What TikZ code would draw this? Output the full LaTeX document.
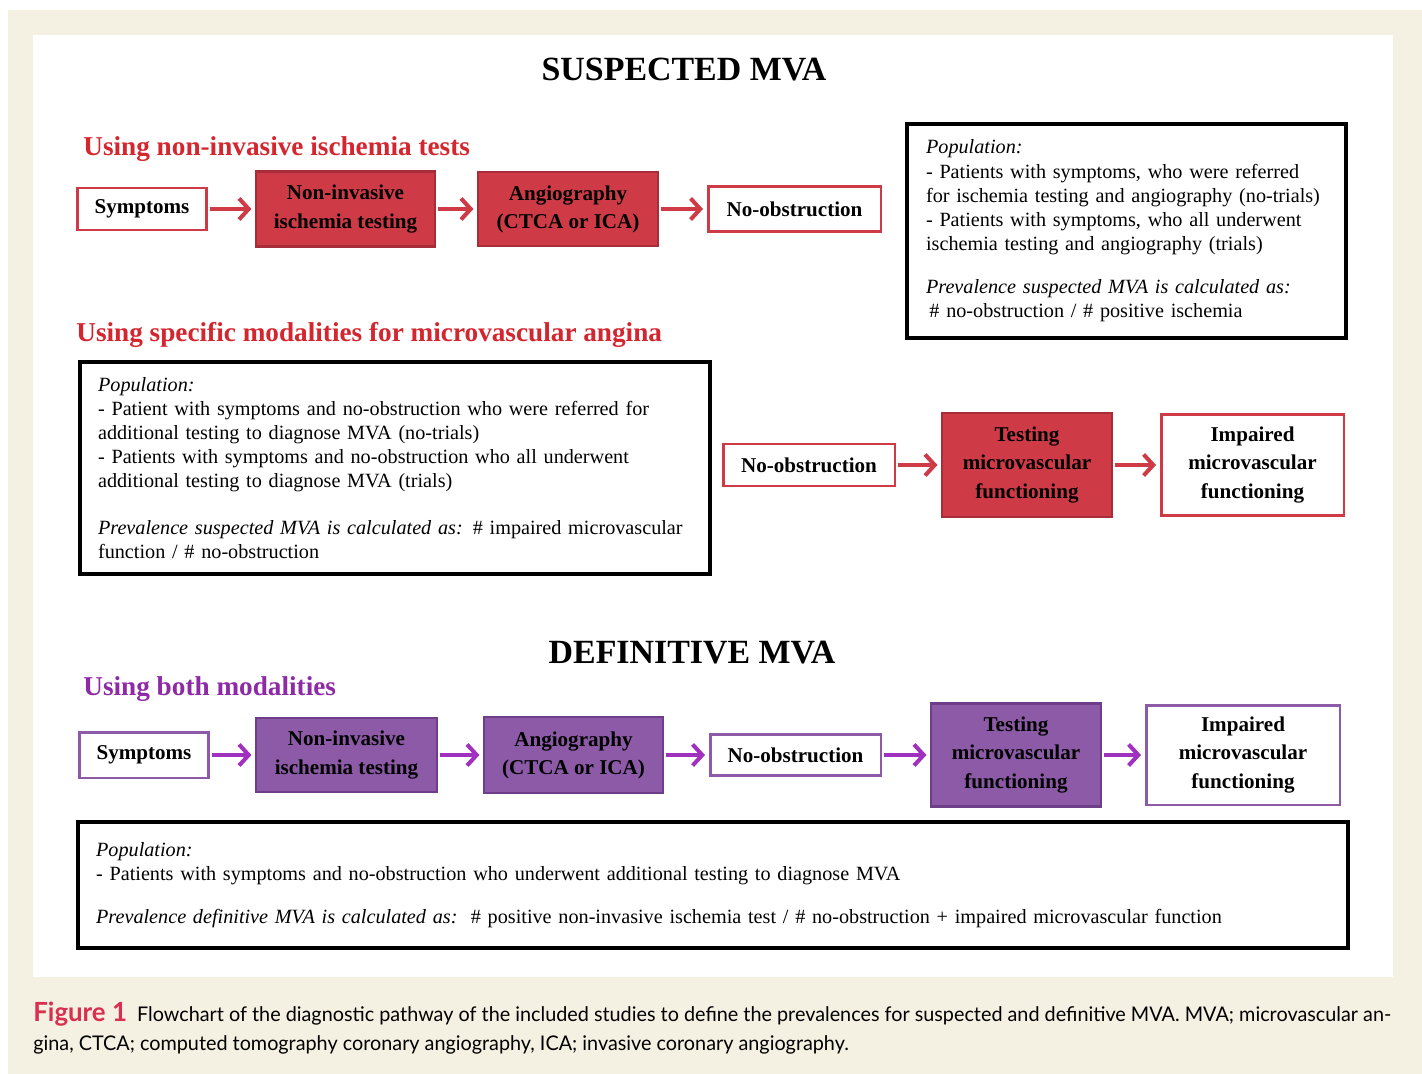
\documentclass[tikz,border=0pt]{standalone}
\usepackage{fontspec}
\setmainfont{Liberation Serif}
\newfontfamily\capfont[FakeStretch=0.98]{Lato}
\usetikzlibrary{arrows.meta}

\definecolor{paper}{HTML}{F4F0E2}
\definecolor{mvared}{HTML}{CE3B46}
\definecolor{mvaredline}{HTML}{A72E38}
\definecolor{mvaredtext}{HTML}{D4262F}
\definecolor{mvapurple}{HTML}{8C5AA7}
\definecolor{mvapurpleline}{HTML}{6E3F88}
\definecolor{mvapurpletext}{HTML}{8E2AA6}
\definecolor{mvaarrowp}{HTML}{A030BE}
\definecolor{capred}{HTML}{D9304F}

\begin{document}
\begin{tikzpicture}
    [x=0.02cm,y=-0.02cm,
     wh/.style 2 args={minimum width=#1cm,minimum height=#2cm},
     lbl/.style={font=\fontsize{12}{16}\selectfont\bfseries,align=center,inner sep=0pt},
     redopen/.style={lbl,draw=mvared,line width=1.7pt,fill=white},
     redfull/.style={lbl,draw=mvaredline,line width=1.2pt,fill=mvared},
     purpopen/.style={lbl,draw=mvapurple,line width=1.7pt,fill=white},
     purpfull/.style={lbl,draw=mvapurpleline,line width=1.2pt,fill=mvapurple},
     popbox/.style={draw=black,line width=2pt,fill=white,inner xsep=0pt,inner ysep=0pt,
                    font=\fontsize{11.5}{13.7}\selectfont,align=left},
     head/.style={font=\fontsize{15.5}{18}\selectfont\bfseries,anchor=west,inner sep=0pt},
     title/.style={font=\fontsize{19.3}{22}\selectfont\bfseries,inner sep=0pt},
     flow/.style={draw=#1,line width=2.3pt,shorten >=2pt,shorten <=1pt,
                  -{Straight Barb[length=5.5pt,width=12pt]}}]

      \useasboundingbox (0,0) rectangle (1422,1074);
      \fill[paper] (8,10) rectangle (1422,1074);
      \fill[white] (33,35) rectangle (1393,977);

      \node (tsus)[title] at (684,70) {SUSPECTED MVA};
      \node (hnon)[head,text=mvaredtext] at (83,149) {Using non-invasive ischemia tests};
      \node (hspc)[head,text=mvaredtext] at (76,335) {Using specific modalities for microvascular angina};
      \node (tdef)[title] at (692,653) {DEFINITIVE MVA};
      \node (hbth)[head,text=mvapurpletext] at (83,689) {Using both modalities};

      % suspected, non-invasive
      \node (sym1)[redopen,wh={2.6}{0.84}]  at (142,209)   {Symptoms};
      \node (nit1)[redfull,wh={3.58}{1.5}]  at (345.5,209) {Non-invasive\\ischemia testing};
      \node (ang1)[redfull,wh={3.6}{1.48}]  at (568,209)   {Angiography\\(CTCA or ICA)};
      \node (nob1)[redopen,wh={3.46}{0.9}]  at (794.5,209) {No-obstruction};

      \node (popa)[popbox,wh={8.78}{4.28},text width=8.02cm] at (1126.5,231)
        {\textit{Population:}\\
         - Patients with symptoms, who were referred\\
         for ischemia testing and angiography (no-trials)\\
         - Patients with symptoms, who all underwent\\
         ischemia testing and angiography (trials)\\[11pt]
         \textit{Prevalence suspected MVA is calculated as:}\\
         \,\# no-obstruction / \# positive ischemia};

      % suspected, specific modalities
      \node (popb)[popbox,wh={12.6}{4.24},text width=11.88cm] at (395,468)
        {\textit{Population:}\\
         - Patient with symptoms and no-obstruction who were referred for\\
         additional testing to diagnose MVA (no-trials)\\
         - Patients with symptoms and no-obstruction who all underwent\\
         additional testing to diagnose MVA (trials)\\[13pt]
         \textit{Prevalence suspected MVA is calculated as:} \# impaired microvascular\\
         function / \# no-obstruction};

      \node (nob2)[redopen,wh={3.44}{0.84}] at (809,465)    {No-obstruction};
      \node (tmf2)[redfull,wh={3.4}{2.08}]  at (1027,465)   {Testing\\microvascular\\functioning};
      \node (imp2)[redopen,wh={3.66}{2.02}] at (1252.5,465) {Impaired\\microvascular\\functioning};

      % definitive
      \node (sym3)[purpopen,wh={2.6}{0.92}]  at (144,755)    {Symptoms};
      \node (nit3)[purpfull,wh={3.62}{1.48}] at (346.5,755)  {Non-invasive\\ischemia testing};
      \node (ang3)[purpfull,wh={3.58}{1.52}] at (573.5,755)  {Angiography\\(CTCA or ICA)};
      \node (nob3)[purpopen,wh={3.42}{0.82}] at (795.5,755)  {No-obstruction};
      \node (tmf3)[purpfull,wh={3.4}{2.06}]  at (1016,755)   {Testing\\microvascular\\functioning};
      \node (imp3)[purpopen,wh={3.88}{2.0}]  at (1243,755)   {Impaired\\microvascular\\functioning};

      \node (popc)[popbox,wh={25.4}{2.52},text width=24.68cm] at (713,885)
        {\textit{Population:}\\
         - Patients with symptoms and no-obstruction who underwent additional testing to diagnose MVA\\[11pt]
         \textit{Prevalence definitive MVA is calculated as:}\ \ \# positive non-invasive ischemia test / \# no-obstruction + impaired microvascular function};

      \foreach \from/\to in {sym1/nit1,nit1/ang1,ang1/nob1,nob2/tmf2,tmf2/imp2}
        \draw[flow=mvared] (\from) -- (\to);
      \foreach \from/\to in {sym3/nit3,nit3/ang3,ang3/nob3,nob3/tmf3,tmf3/imp3}
        \draw[flow=mvaarrowp] (\from) -- (\to);

      \node (cap)[anchor=base west,inner sep=0pt,align=left,
                  font=\capfont\fontsize{11.5}{16.5}\selectfont] at (33,1050)
        {{\color{capred}\bfseries\fontsize{15}{16.5}\selectfont Figure 1}\ \ Flowchart of the diagnostic pathway of the included studies to define the prevalences for suspected and definitive MVA. MVA; microvascular an-\\
         gina, CTCA; computed tomography coronary angiography, ICA; invasive coronary angiography.};
    \end{tikzpicture}
\end{document}
